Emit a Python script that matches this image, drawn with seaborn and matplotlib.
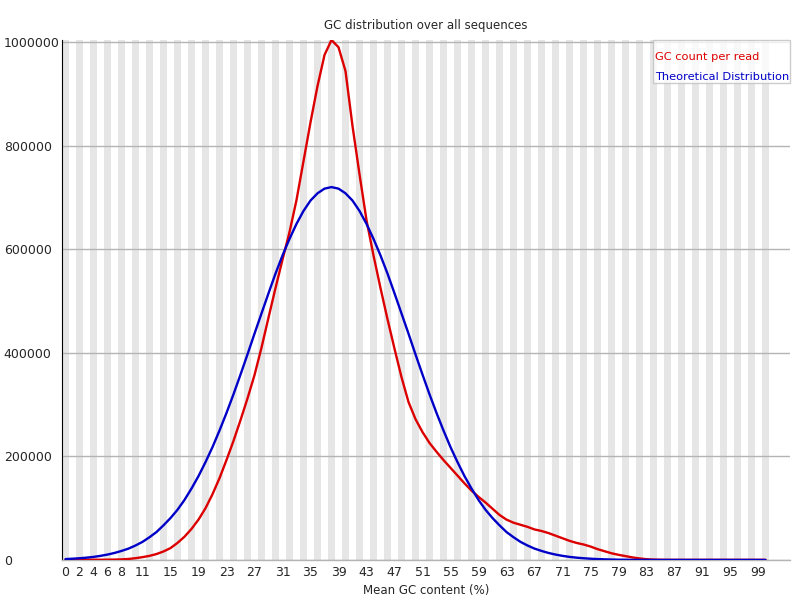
import numpy as np
import pandas as pd
import matplotlib
matplotlib.use("Agg")
import matplotlib.pyplot as plt
import seaborn as sns

# GC content bins 0..100 (%)
gc_percent = list(range(101))

# GC count per read
gc_count = [
    500, 500, 500, 500, 500, 500, 600, 800, 1200, 2000,
    3500, 5500, 8000, 11500, 16500, 23000, 33000, 45000, 60000, 78000,
    100000, 127000, 158000, 193000, 230000, 270000, 312000, 357000, 410000, 468000,
    525000, 580000, 633000, 695000, 770000, 845000, 915000, 975000, 1004000, 990000,
    944000, 838000, 745000, 656000, 588000, 525000, 465000, 408000, 353000, 305000,
    272000, 247000, 226000, 209000, 193000, 178000, 163000, 148000, 134000, 122000,
    111000, 99000, 87000, 78000, 72000, 68000, 64000, 59000, 56000, 52000,
    47000, 42000, 37000, 33000, 30000, 26000, 21000, 17000, 13000, 10000,
    7500, 5000, 3000, 1500, 800, 500, 300, 300, 300, 300,
    300, 300, 300, 300, 300, 300, 300, 300, 300, 300,
    300,
]

# Theoretical distribution
theoretical = [
    1800, 2500, 3400, 4500, 6000, 8000, 10500, 13600, 17500, 22000,
    28000, 35000, 44000, 54000, 67000, 81000, 97000, 116000, 138000, 162000,
    189000, 218000, 250000, 284000, 320000, 358000, 397000, 437000, 476000, 515000,
    553000, 588000, 620000, 649000, 674000, 694000, 708000, 717000, 720000, 717000,
    708000, 694000, 674000, 649000, 620000, 588000, 553000, 515000, 476000, 437000,
    397000, 358000, 320000, 284000, 250000, 218000, 189000, 162000, 138000, 116000,
    97000, 81000, 67000, 54000, 44000, 35000, 28000, 22000, 17500, 13600,
    10500, 8000, 6000, 4500, 3400, 2500, 1800, 1300, 900, 600,
    450, 300, 200, 150, 100, 100, 100, 100, 100, 100,
    100, 100, 100, 100, 100, 100, 100, 100, 100, 100,
    100,
]

x_tick_labels = [0, 2, 4, 6, 8, 11, 15, 19, 23, 27, 31, 35, 39, 43, 47, 51,
                 55, 59, 63, 67, 71, 75, 79, 83, 87, 91, 95, 99]
y_ticks = [0, 200000, 400000, 600000, 800000, 1000000]

df = pd.DataFrame({
    "gc": gc_percent * 2,
    "count": gc_count + theoretical,
    "series": ["GC count per read"] * 101 + ["Theoretical Distribution"] * 101,
})

sns.set_style("white")
plt.rcParams["font.family"] = ["DejaVu Sans"]

fig = plt.figure(figsize=(8, 6), dpi=100)
ax = fig.add_axes([62 / 800, 40 / 600, 728 / 800, 520 / 600])

# alternating category stripes
for i in gc_percent:
    if i % 2 == 0:
        ax.axvspan(i - 0.5, i + 0.5, color="#e6e6e6", lw=0, zorder=0)

for y in y_ticks:
    ax.axhline(y, color="#b4b4b4", lw=1, zorder=1)

palette = {"GC count per read": "#dc0000", "Theoretical Distribution": "#0000c8"}
sns.lineplot(data=df, x="gc", y="count", hue="series", palette=palette,
             linewidth=1.7, ax=ax, zorder=3)

ax.set_xlim(-0.5, 103.5)
ax.set_ylim(0, 1004000)
ax.set_xticks(x_tick_labels)
ax.set_xticklabels([str(v) for v in x_tick_labels], fontsize=9)
ax.set_yticks(y_ticks)
ax.set_yticklabels([str(v) for v in y_ticks], fontsize=9, ha="left")
ax.tick_params(axis="y", length=2.5, pad=39.5, color="black")
ax.tick_params(axis="x", length=0, pad=4)

for s in ["top", "right"]:
    ax.spines[s].set_visible(False)
ax.spines["left"].set_color("black")
ax.spines["left"].set_linewidth(0.8)
ax.spines["bottom"].set_color("#b4b4b4")
ax.spines["bottom"].set_linewidth(1)

ax.set_xlabel("Mean GC content (%)", fontsize=8.5, labelpad=4)
ax.set_ylabel("")
ax.set_title("GC distribution over all sequences", fontsize=8.5, pad=8)

# tiny blank title pushes the entries down like the original legend box
leg = ax.legend(loc="upper right", borderaxespad=0, frameon=True, fancybox=False,
                handlelength=0, handletextpad=0, labelcolor="linecolor",
                fontsize=8.2, borderpad=0.1, labelspacing=0.85,
                title=" ", title_fontsize=1)
for h in leg.legend_handles:
    h.set_visible(False)
leg.get_frame().set_edgecolor("#c0c0c0")
leg.get_frame().set_linewidth(1)
leg.set_zorder(5)

fig.savefig("out.png", dpi=100)
